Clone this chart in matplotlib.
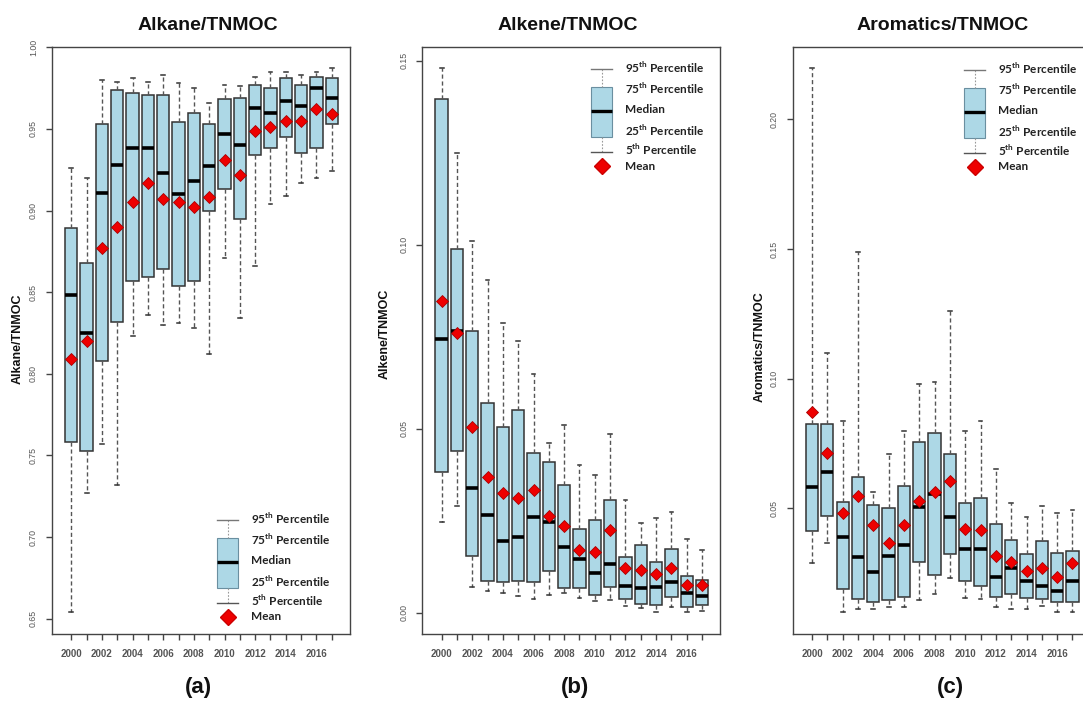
import numpy as np
import matplotlib
matplotlib.use("Agg")
import matplotlib.pyplot as plt
from matplotlib.patches import Rectangle

plt.rcParams['font.family'] = ['Liberation Sans', 'DejaVu Sans']
plt.rcParams['mathtext.fontset'] = 'custom'
plt.rcParams['mathtext.rm'] = 'Lato'
plt.rcParams['mathtext.bf'] = 'Lato:bold'

years = list(range(2000, 2018))

# alkane / TNMOC : 5th, 25th, median, 75th, 95th percentile and mean
alk_p5 = [0.654, 0.727, 0.757, 0.732, 0.823, 0.836, 0.830, 0.831, 0.828, 0.812,
          0.871, 0.834, 0.866, 0.904, 0.909, 0.917, 0.920, 0.924]
alk_q1 = [0.758, 0.753, 0.808, 0.832, 0.857, 0.859, 0.864, 0.854, 0.857, 0.900,
          0.913, 0.895, 0.934, 0.938, 0.945, 0.935, 0.938, 0.953]
alk_med = [0.848, 0.825, 0.911, 0.928, 0.938, 0.938, 0.923, 0.910, 0.918, 0.927,
           0.947, 0.940, 0.963, 0.960, 0.967, 0.964, 0.975, 0.969]
alk_q3 = [0.889, 0.868, 0.953, 0.974, 0.972, 0.971, 0.971, 0.954, 0.960, 0.953,
          0.968, 0.969, 0.977, 0.975, 0.981, 0.977, 0.982, 0.981]
alk_p95 = [0.926, 0.920, 0.980, 0.979, 0.981, 0.979, 0.983, 0.978, 0.975, 0.966,
           0.977, 0.976, 0.982, 0.985, 0.985, 0.983, 0.985, 0.987]
alk_mean = [0.809, 0.820, 0.877, 0.890, 0.905, 0.917, 0.907, 0.905, 0.902, 0.908,
            0.931, 0.922, 0.949, 0.951, 0.955, 0.955, 0.962, 0.959]

# alkene / TNMOC
ale_p5 = [0.0246, 0.0290, 0.0069, 0.0060, 0.0054, 0.0044, 0.0037, 0.0048, 0.0053, 0.0040,
          0.0031, 0.0035, 0.0017, 0.0013, 0.0003, 0.0015, 0.0001, 0.0005]
ale_q1 = [0.0383, 0.0439, 0.0153, 0.0087, 0.0082, 0.0085, 0.0082, 0.0113, 0.0067, 0.0067,
          0.0048, 0.0069, 0.0037, 0.0024, 0.0021, 0.0042, 0.0016, 0.0021]
ale_med = [0.0743, 0.0765, 0.0340, 0.0266, 0.0196, 0.0205, 0.0259, 0.0247, 0.0178, 0.0145,
           0.0107, 0.0133, 0.0072, 0.0067, 0.0069, 0.0083, 0.0054, 0.0045]
ale_q3 = [0.1397, 0.0988, 0.0765, 0.0571, 0.0505, 0.0551, 0.0435, 0.0410, 0.0347, 0.0227,
          0.0253, 0.0305, 0.0152, 0.0183, 0.0137, 0.0174, 0.0099, 0.0089]
ale_p95 = [0.1479, 0.1248, 0.1009, 0.0903, 0.0786, 0.0739, 0.0649, 0.0460, 0.0511, 0.0401,
           0.0374, 0.0485, 0.0305, 0.0244, 0.0258, 0.0274, 0.0200, 0.0170]
ale_mean = [0.0848, 0.0759, 0.0505, 0.0369, 0.0326, 0.0312, 0.0332, 0.0262, 0.0236, 0.0169,
            0.0166, 0.0225, 0.0121, 0.0115, 0.0104, 0.0122, 0.0076, 0.0074]

# aromatics / TNMOC
aro_p5 = [0.0287, 0.0367, 0.0099, 0.0113, 0.0113, 0.0119, 0.0120, 0.0148, 0.0168, 0.0232,
          0.0155, 0.0150, 0.0121, 0.0113, 0.0113, 0.0122, 0.0099, 0.0099]
aro_q1 = [0.0411, 0.0470, 0.0187, 0.0151, 0.0139, 0.0147, 0.0158, 0.0294, 0.0244, 0.0322,
          0.0219, 0.0200, 0.0158, 0.0168, 0.0155, 0.0151, 0.0139, 0.0139]
aro_med = [0.0582, 0.0638, 0.0390, 0.0312, 0.0256, 0.0316, 0.0360, 0.0503, 0.0554, 0.0466,
           0.0343, 0.0343, 0.0236, 0.0268, 0.0219, 0.0200, 0.0180, 0.0219]
aro_q3 = [0.0823, 0.0823, 0.0526, 0.0622, 0.0512, 0.0501, 0.0586, 0.0756, 0.0791, 0.0709,
          0.0522, 0.0541, 0.0438, 0.0379, 0.0322, 0.0374, 0.0327, 0.0334]
aro_p95 = [0.2196, 0.1100, 0.0835, 0.1488, 0.0564, 0.0709, 0.0799, 0.0978, 0.0986, 0.1259,
           0.0799, 0.0835, 0.0650, 0.0521, 0.0466, 0.0508, 0.0483, 0.0495]
aro_mean = [0.0871, 0.0715, 0.0483, 0.0546, 0.0437, 0.0367, 0.0437, 0.0528, 0.0561, 0.0607,
            0.0419, 0.0415, 0.0317, 0.0294, 0.0258, 0.0271, 0.0236, 0.0290]

titles = ['Alkane/TNMOC', 'Alkene/TNMOC', 'Aromatics/TNMOC']
ylabels = ['Alkane/TNMOC', 'Alkene/TNMOC', 'Aromatics/TNMOC']
panel_tags = ['(a)', '(b)', '(c)']
yticks = [[0.65, 0.70, 0.75, 0.80, 0.85, 0.90, 0.95, 1.00],
          [0.00, 0.05, 0.10, 0.15],
          [0.05, 0.10, 0.15, 0.20]]

panels = [
    (alk_p5, alk_q1, alk_med, alk_q3, alk_p95, alk_mean),
    (ale_p5, ale_q1, ale_med, ale_q3, ale_p95, ale_mean),
    (aro_p5, aro_q1, aro_med, aro_q3, aro_p95, aro_mean),
]

W, H = 1083, 706
fig = plt.figure(figsize=(W / 100, H / 100), dpi=100)

BOX = '#add8e6'
EDGE = '#333333'
WHISK = '#555555'
TICK = '#555555'

ax_left = [52, 422.3, 792.7]
ax_w = 298
ax_top, ax_bot = 46.7, 634
title_x = [208, 568, 943]
ylab = [(18, 339), (385, 334), (760, 347)]
tag_x = [198, 575, 950]
leg_xy = [(217, 520), (591, 69.3), (964.3, 70)]


def px(x, y):
    return x / W, 1 - y / H


for i, (p5, q1, med, q3, p95, mn) in enumerate(panels):
    ax = fig.add_axes([ax_left[i] / W, 1 - ax_bot / H, ax_w / W, (ax_bot - ax_top) / H])
    stats = []
    for k in range(len(years)):
        stats.append(dict(whislo=p5[k], q1=q1[k], med=med[k], q3=q3[k], whishi=p95[k]))
    ax.bxp(stats, positions=years, widths=0.8, patch_artist=True, showfliers=False,
           capwidths=0.25,
           boxprops=dict(facecolor=BOX, edgecolor=EDGE, linewidth=1.1),
           medianprops=dict(color='black', linewidth=2.6, solid_capstyle='butt'),
           whiskerprops=dict(color=WHISK, linewidth=1.0, linestyle=(0, (3, 2))),
           capprops=dict(color=EDGE, linewidth=1.1))
    ax.plot(years, mn, linestyle='none', marker='D', markersize=5.8,
            markerfacecolor='#ee0000', markeredgecolor='#aa0000', markeredgewidth=0.6,
            zorder=5)

    lo = min(p5)
    hi = max(p95)
    pad = (hi - lo) * 0.04
    ax.set_ylim(lo - pad, hi + pad)
    ax.set_xlim(1998.74, 2018.19)
    ax.set_xticks(years)
    ax.set_xticklabels([str(y) if y % 2 == 0 else '' for y in years])
    ax.set_yticks(yticks[i])
    ax.set_yticklabels(['%.2f' % t for t in yticks[i]], rotation=90, va='center')
    ax.tick_params(axis='x', direction='out', length=4, width=1, color='#444444',
                   labelsize=7, labelcolor=TICK, pad=7)
    ax.tick_params(axis='y', direction='out', length=4, width=1, color='#444444',
                   labelsize=6.3, labelcolor=TICK, pad=6)
    for lab in ax.get_xticklabels():
        lab.set_fontweight('bold')
    for s in ax.spines.values():
        s.set_color('#444444')
        s.set_linewidth(1.0)

    fig.text(*px(title_x[i], 26), titles[i], ha='center', va='center',
             fontsize=14, fontweight='bold', color='#111111')
    fig.text(*px(*ylab[i]), ylabels[i], ha='center', va='center', rotation=90,
             fontsize=9, fontweight='bold', color='#111111')
    fig.text(*px(tag_x[i], 688), panel_tags[i], ha='center', va='center',
             fontsize=16, fontweight='bold', color='#111111')

# legends drawn on a pixel-space overlay
ov = fig.add_axes([0, 0, 1, 1], zorder=10)
ov.set_xlim(0, W)
ov.set_ylim(H, 0)
ov.axis('off')
ov.patch.set_alpha(0)

leg_labels = ['95$^{\\mathbf{th}}$ Percentile', '75$^{\\mathbf{th}}$ Percentile', 'Median',
              '25$^{\\mathbf{th}}$ Percentile', '5$^{\\mathbf{th}}$ Percentile', 'Mean']
leg_rows = [-1.5, 19, 40, 61.5, 80.5, 97]

for x0, y0 in leg_xy:
    bw = 21
    cx = x0 + bw / 2
    ov.plot([cx, cx], [y0, y0 + 18], color='#999999', lw=0.8, ls=(0, (1.5, 1.5)))
    ov.plot([cx, cx], [y0 + 68, y0 + 83], color='#999999', lw=0.8, ls=(0, (1.5, 1.5)))
    ov.plot([x0, x0 + bw], [y0, y0], color='#777777', lw=1.0)
    ov.plot([x0, x0 + bw], [y0 + 83, y0 + 83], color='#555555', lw=1.0)
    ov.add_patch(Rectangle((x0, y0 + 18), bw, 50, facecolor=BOX, edgecolor='#6a8fa0', lw=0.8))
    ov.plot([x0, x0 + bw], [y0 + 42, y0 + 42], color='black', lw=2.4, solid_capstyle='butt')
    ov.plot([cx], [y0 + 97], marker='D', markersize=8, color='#ee0000', markeredgecolor='#cc0000')
    for lab, dy in zip(leg_labels, leg_rows):
        ov.text(x0 + 34, y0 + dy, lab, ha='left', va='center', fontsize=8.5,
                fontweight='bold', family='Lato', color='#222222')

fig.savefig('out.png', dpi=100)
